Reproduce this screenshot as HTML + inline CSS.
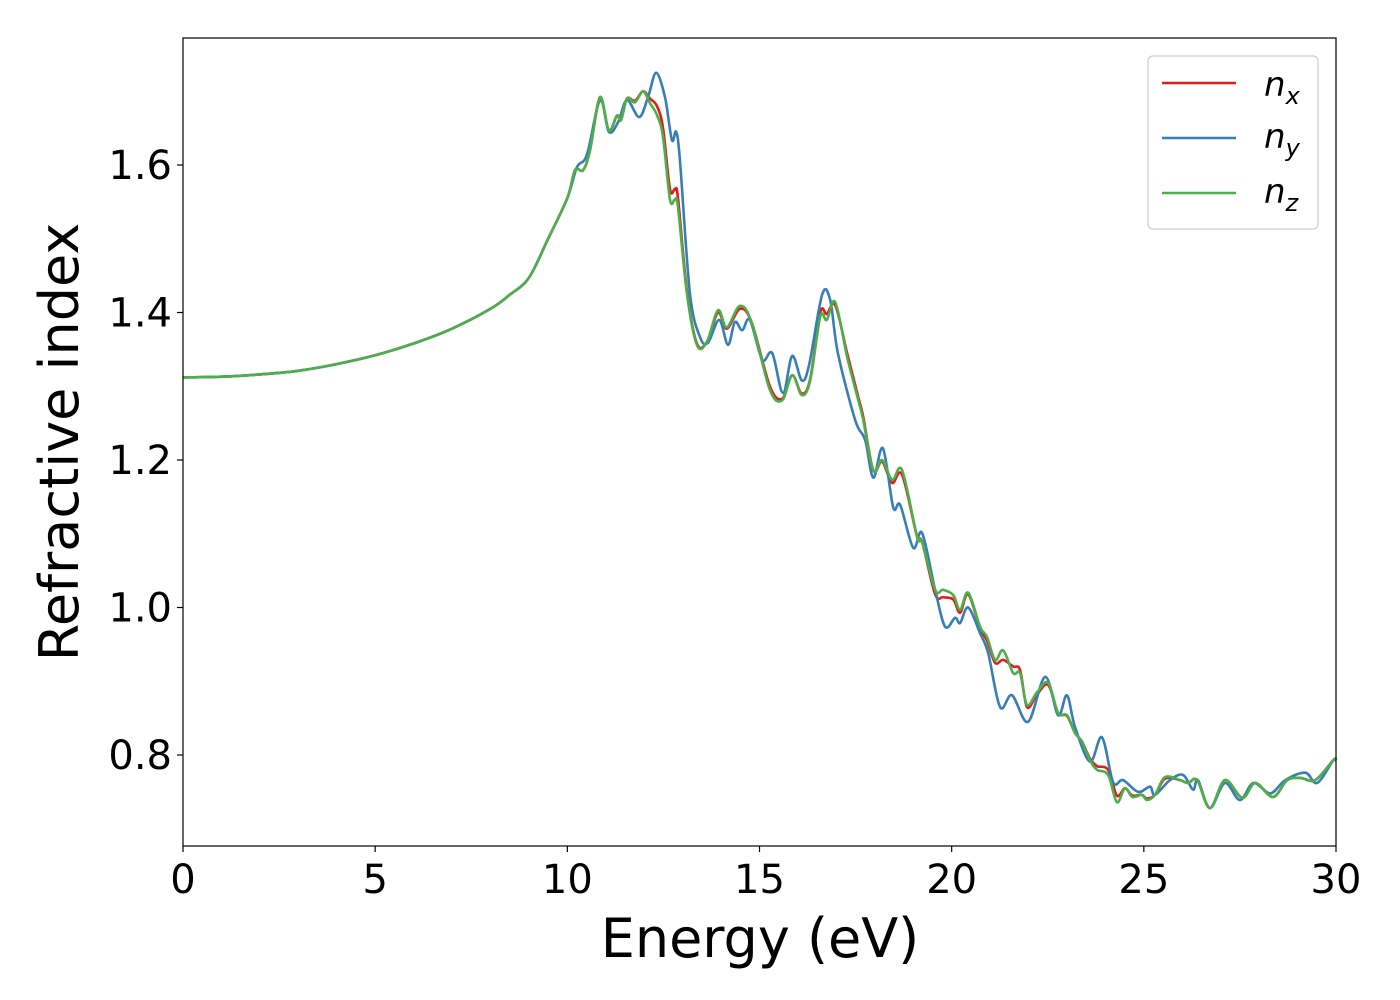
<!DOCTYPE html>
<html><head><meta charset="utf-8"><style>
body{margin:0;background:#fff}
svg{display:block;font-family:"DejaVu Sans","Liberation Sans",sans-serif}
</style></head><body>
<svg id="chart" width="1400" height="1000" viewBox="0 0 1400 1000" xmlns="http://www.w3.org/2000/svg">
<rect width="1400" height="1000" fill="#fff"/>
<g id="series"></g>
<rect x="183" y="38" width="1153" height="808" fill="none" stroke="#000" stroke-width="1.2"/>
<g id="xticks"></g>
<g id="yticks"></g>
<text x="760" y="957" font-size="54" text-anchor="middle">Energy (eV)</text>
<text transform="translate(78,442) rotate(-90)" font-size="54" text-anchor="middle">Refractive index</text>
<g>
<rect x="1148" y="56" width="170" height="173" rx="5" fill="#fff" stroke="#ccc" stroke-width="1.2"/>
<line x1="1162" y1="83" x2="1236" y2="83" stroke="#e41a1c" stroke-width="2.5"/>
<text x="1264" y="96" font-size="34" font-style="italic">n<tspan font-size="24" dy="8">x</tspan></text>
<line x1="1162" y1="138" x2="1236" y2="138" stroke="#377eb8" stroke-width="2.5"/>
<text x="1264" y="148" font-size="34" font-style="italic">n<tspan font-size="24" dy="8">y</tspan></text>
<line x1="1162" y1="193" x2="1236" y2="193" stroke="#4daf4a" stroke-width="2.5"/>
<text x="1264" y="203" font-size="34" font-style="italic">n<tspan font-size="24" dy="8">z</tspan></text>
</g>
</svg>
<script>
const xTicks=[0,5,10,15,20,25,30];
const yTicks=[0.8,1.0,1.2,1.4,1.6];
const baseE=[0,1,2,3,4,5,6,7,8,8.5,9,9.5,10];
const baseN=[1.312,1.313,1.316,1.321,1.33,1.342,1.358,1.378,1.405,1.424,1.447,1.50,1.555];
const zE=[10.2,10.41,10.59,10.85,11.08,11.29,11.4,11.55,11.76,11.97,12.15,12.33,12.49,12.67,12.8,12.88,13.11,13.37,13.63,13.92,14.15,14.49,14.8,15.27,15.59,15.85,16.1,16.32,16.58,16.75,16.97,17.28,17.57,17.7,17.96,18.19,18.45,18.71,19.1,19.23,19.57,19.78,20.04,20.22,20.43,20.74,20.92,21.13,21.34,21.6,21.78,21.96,22.22,22.51,22.77,23.0,23.21,23.39,23.6,23.78,24.07,24.3,24.51,24.7,24.95,25.08,25.29,25.55,25.94,26.15,26.39,26.72,27.11,27.56,27.9,28.36,28.73,29.07,29.46,29.93,30];
const zN=[1.593,1.593,1.62,1.692,1.647,1.667,1.661,1.69,1.685,1.70,1.684,1.668,1.638,1.553,1.553,1.543,1.426,1.356,1.36,1.403,1.38,1.409,1.386,1.295,1.281,1.315,1.288,1.308,1.394,1.39,1.414,1.34,1.281,1.254,1.186,1.2,1.173,1.186,1.096,1.089,1.024,1.024,1.017,0.997,1.02,0.974,0.96,0.929,0.942,0.911,0.911,0.868,0.885,0.898,0.857,0.854,0.83,0.818,0.793,0.78,0.773,0.736,0.755,0.743,0.746,0.739,0.746,0.77,0.766,0.762,0.766,0.728,0.766,0.742,0.762,0.743,0.766,0.769,0.766,0.793,0.793];
const xN=[1.593,1.593,1.62,1.692,1.647,1.667,1.661,1.69,1.687,1.70,1.69,1.68,1.65,1.567,1.567,1.555,1.43,1.358,1.36,1.40,1.378,1.405,1.386,1.3,1.283,1.315,1.29,1.31,1.40,1.398,1.41,1.345,1.285,1.258,1.186,1.198,1.169,1.18,1.096,1.089,1.018,1.014,1.011,0.993,1.018,0.972,0.955,0.925,0.929,0.92,0.915,0.865,0.882,0.895,0.857,0.853,0.83,0.818,0.795,0.785,0.78,0.745,0.755,0.745,0.746,0.741,0.746,0.768,0.766,0.762,0.766,0.728,0.766,0.742,0.762,0.743,0.766,0.769,0.766,0.793,0.793];
const yE=[10.25,10.51,10.85,11.08,11.32,11.55,11.87,12.1,12.31,12.54,12.72,12.83,12.93,13.19,13.45,13.66,13.95,14.18,14.36,14.55,14.75,15.07,15.33,15.61,15.85,16.1,16.29,16.63,16.84,17.04,17.49,17.75,17.96,18.21,18.48,18.66,19.0,19.23,19.57,19.83,20.09,20.22,20.43,20.74,20.95,21.26,21.57,21.99,22.43,22.77,23.0,23.21,23.6,23.91,24.2,24.46,24.85,25.16,25.29,25.68,26.02,26.28,26.41,26.72,27.11,27.5,27.85,28.29,28.68,29.2,29.51,29.93,30];
const yN=[1.597,1.614,1.688,1.645,1.658,1.688,1.665,1.692,1.725,1.692,1.634,1.645,1.607,1.426,1.367,1.359,1.39,1.356,1.387,1.376,1.39,1.336,1.345,1.291,1.341,1.308,1.329,1.424,1.417,1.345,1.254,1.227,1.176,1.216,1.136,1.139,1.081,1.101,1.024,0.974,0.986,0.979,1.0,0.965,0.938,0.865,0.881,0.845,0.906,0.854,0.881,0.838,0.791,0.824,0.763,0.766,0.75,0.757,0.746,0.766,0.773,0.753,0.766,0.728,0.762,0.739,0.762,0.748,0.766,0.776,0.762,0.793,0.793];

const X0=183,X1=1336,Y0=846,Y1=38;
const xs=e=>X0+e*(X1-X0)/30;
const ys=v=>755-(v-0.8)*737.5;
const NS="http://www.w3.org/2000/svg";
function crPath(pts){
  let d="M"+pts[0][0].toFixed(1)+","+pts[0][1].toFixed(1);
  for(let i=0;i<pts.length-1;i++){
    const p0=pts[Math.max(0,i-1)],p1=pts[i],p2=pts[i+1],p3=pts[Math.min(pts.length-1,i+2)];
    const c1=[p1[0]+(p2[0]-p0[0])/6,p1[1]+(p2[1]-p0[1])/6];
    const c2=[p2[0]-(p3[0]-p1[0])/6,p2[1]-(p3[1]-p1[1])/6];
    d+="C"+c1[0].toFixed(1)+","+c1[1].toFixed(1)+" "+c2[0].toFixed(1)+","+c2[1].toFixed(1)+" "+p2[0].toFixed(1)+","+p2[1].toFixed(1);
  }
  return d;
}
function line(E,N,color,name){
  const pts=baseE.map((e,i)=>[xs(e),ys(baseN[i])]).concat(E.map((e,i)=>[xs(e),ys(N[i])]));
  const p=document.createElementNS(NS,"path");
  p.setAttribute("d",crPath(pts));
  p.setAttribute("fill","none");
  p.setAttribute("stroke",color);
  p.setAttribute("stroke-width","2.6");
  p.setAttribute("stroke-linejoin","round");
  
  
  document.getElementById("series").appendChild(p);
}
line(zE,xN,"#e41a1c","series-nx");
line(yE,yN,"#377eb8","series-ny");
line(zE,zN,"#4daf4a","series-nz");

const gx=document.getElementById("xticks");
xTicks.forEach(t=>{
  const l=document.createElementNS(NS,"line");
  l.setAttribute("x1",xs(t));l.setAttribute("x2",xs(t));l.setAttribute("y1",Y0);l.setAttribute("y2",Y0+6);
  l.setAttribute("stroke","#000");l.setAttribute("stroke-width","1.2");
  
  
  gx.appendChild(l);
  const tx=document.createElementNS(NS,"text");
  tx.setAttribute("x",xs(t));tx.setAttribute("y",893);tx.setAttribute("font-size","40");tx.setAttribute("text-anchor","middle");
  tx.textContent=t;
  
  
  gx.appendChild(tx);
});
const gy=document.getElementById("yticks");
yTicks.forEach(t=>{
  const l=document.createElementNS(NS,"line");
  l.setAttribute("x1",X0-6);l.setAttribute("x2",X0);l.setAttribute("y1",ys(t));l.setAttribute("y2",ys(t));
  l.setAttribute("stroke","#000");l.setAttribute("stroke-width","1.2");
  
  
  gy.appendChild(l);
  const tx=document.createElementNS(NS,"text");
  tx.setAttribute("x",172);tx.setAttribute("y",ys(t)+14);tx.setAttribute("font-size","40");tx.setAttribute("text-anchor","end");
  tx.textContent=t.toFixed(1);
  
  
  gy.appendChild(tx);
});
</script>
</body></html>
